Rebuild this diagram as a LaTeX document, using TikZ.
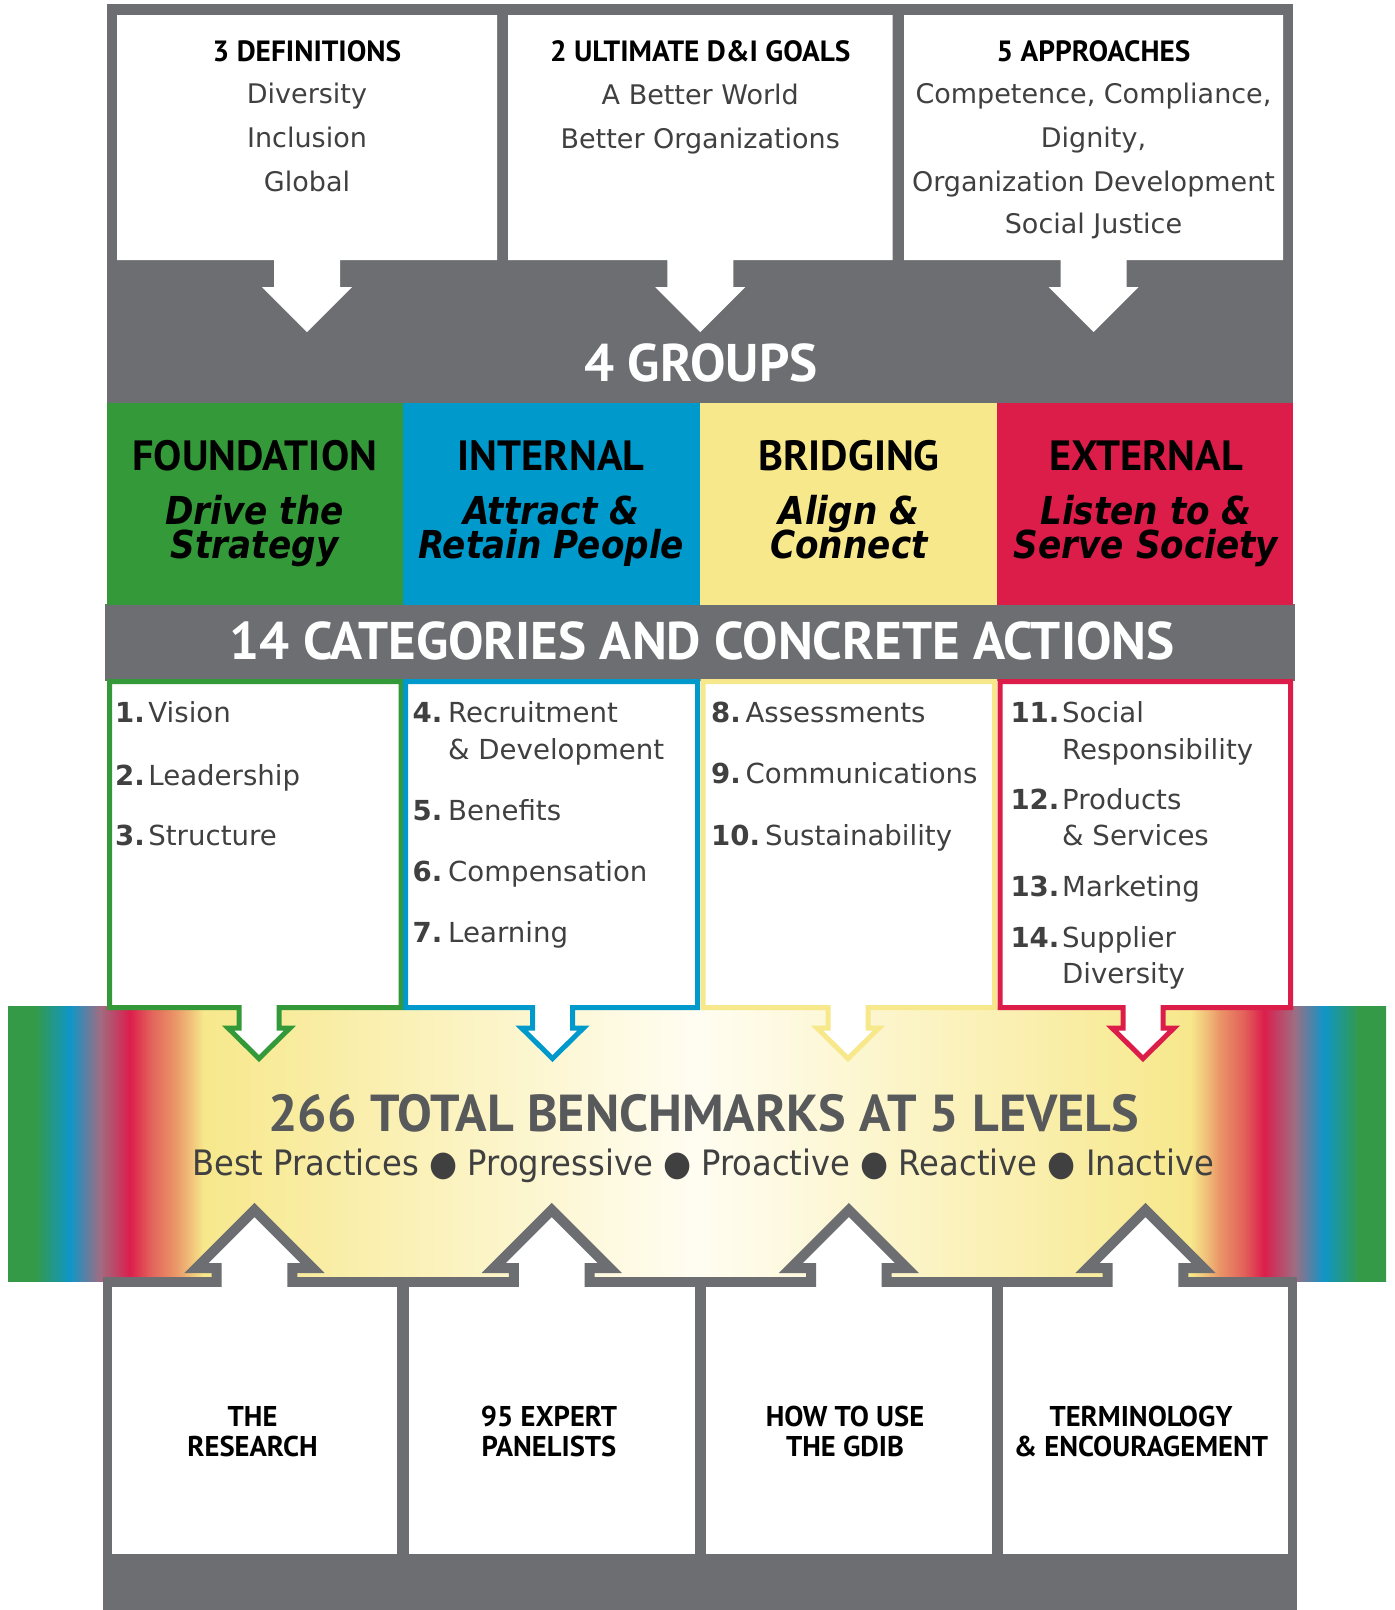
\documentclass[tikz,border=0pt]{standalone}
\usepackage{fontspec}
\newfontfamily\hf{PT Sans}
\newfontfamily\bodyfont{DejaVu Sans}
\newfontfamily\itcondfont{DejaVu Sans}[FakeStretch=0.89]
\newfontfamily\lvlfont{DejaVu Sans}[FakeStretch=0.92]
\definecolor{framegray}{RGB}{109,110,113}
\definecolor{fgreen}{RGB}{52,154,57}
\definecolor{fblue}{RGB}{0,153,204}
\definecolor{fyellow}{RGB}{247,232,140}
\definecolor{fred}{RGB}{220,29,74}
\definecolor{txtgray}{RGB}{64,64,65}
\definecolor{benchgray}{RGB}{88,89,91}
\definecolor{rgreen}{RGB}{52,154,72}
\definecolor{rblue}{RGB}{15,150,200}
\definecolor{rpurple}{RGB}{160,108,130}
\definecolor{rred}{RGB}{220,30,76}
\definecolor{rcoral}{RGB}{226,96,90}
\definecolor{rorange}{RGB}{234,150,104}
\definecolor{rpeach}{RGB}{240,190,120}
\definecolor{ryellow}{RGB}{247,232,140}
\definecolor{rwhite}{RGB}{255,253,242}
\pgfdeclarehorizontalshading{rainbow}{100bp}{color(0bp)=(rgreen); color(25bp)=(rgreen); color(25.98bp)=(rgreen); color(27.25bp)=(rblue); color(28.34bp)=(rpurple); color(29.43bp)=(rred); color(30.15bp)=(rcoral); color(31.06bp)=(rorange); color(31.6bp)=(rpeach); color(32.1bp)=(ryellow); color(50bp)=(rwhite); color(67.9bp)=(ryellow); color(68.5bp)=(rpeach); color(68.95bp)=(rorange); color(69.86bp)=(rcoral); color(70.57bp)=(rred); color(71.66bp)=(rpurple); color(72.75bp)=(rblue); color(74.02bp)=(rgreen); color(75bp)=(rgreen); color(100bp)=(rgreen)}
\begin{document}
\begin{tikzpicture}[x=1pt,y=-1pt,
  topbody/.style={inner sep=0pt, anchor=base, text=txtgray, font=\bodyfont\fontsize{27pt}{27pt}\selectfont},
  tophead/.style={inner sep=0pt, anchor=base, text=black, font=\hf\bfseries\fontsize{29.3pt}{29.3pt}\selectfont},
  bigtitle/.style={inner sep=0pt, anchor=base, text=white, font=\hf\bfseries\fontsize{53pt}{53pt}\selectfont},
  grphead/.style={inner sep=0pt, anchor=base, text=black, font=\hf\bfseries\fontsize{42.3pt}{42.3pt}\selectfont},
  grpit/.style={inner sep=0pt, anchor=base, text=black, text height=27pt, text depth=4pt, font=\itcondfont\bfseries\itshape\fontsize{38.5pt}{38.5pt}\selectfont},
  catnum/.style={inner sep=0pt, anchor=base west, text=txtgray, font=\bodyfont\bfseries\fontsize{27.6pt}{27.6pt}\selectfont},
  cattxt/.style={inner sep=0pt, anchor=base west, text=txtgray, font=\bodyfont\fontsize{27.6pt}{27.6pt}\selectfont},
  benchtitle/.style={inner sep=0pt, anchor=base, text=benchgray, font=\hf\bfseries\fontsize{52pt}{52pt}\selectfont},
  benchlevels/.style={inner sep=0pt, anchor=base, text=txtgray, font=\lvlfont\fontsize{35pt}{35pt}\selectfont},
  bothead/.style={inner sep=0pt, anchor=base, text=black, font=\hf\bfseries\fontsize{28.6pt}{28.6pt}\selectfont},
  catbox/.style={fill=white, line width=5pt, line join=miter},
  upbox/.style={fill=white, draw=framegray, line width=10pt, line join=miter}
]
\useasboundingbox (0,0) rectangle (1395,1610);

% top gray frame and bands
\fill[framegray] (107,4) rectangle (1293,404);
\fill[framegray] (105,604) rectangle (1294.5,681);
\fill[fgreen]  (107,403) rectangle (402.5,605);
\fill[fblue]   (402.5,403) rectangle (700,605);
\fill[fyellow] (700,403) rectangle (997,605);
\fill[fred]    (997,403) rectangle (1293,605);

% top boxes with white down arrows
\foreach \l/\r/\c in {117/497/307, 508/892.5/700.25, 904/1283/1093.5}
  \fill[white] (\l,15) -- (\r,15) -- (\r,260) -- (\c+33,260) -- (\c+33,287) -- (\c+45,287) -- (\c,332) -- (\c-45,287) -- (\c-33,287) -- (\c-33,260) -- (\l,260) -- cycle;

% rainbow band
\shade[shading=rainbow] (8,1006.7) rectangle (1386,1281.7);

% category boxes with outlined down arrows
\foreach \l/\r/\c/\col in {109.5/401/259/fgreen, 405.5/697.5/552.5/fblue, 703/994.5/848/fyellow, 1000/1290.5/1143/fred}
  \draw[catbox, draw=\col] (\l,681.5) -- (\r,681.5) -- (\r,1007.5) -- (\c+20,1007.5) -- (\c+20,1028) -- (\c+31,1028) -- (\c,1058.5) -- (\c-31,1028) -- (\c-20,1028) -- (\c-20,1007.5) -- (\l,1007.5) -- cycle;

% bottom frame
\fill[framegray] (102.7,1277.3) rectangle (1296.5,1610);
\foreach \c in {254.5, 551.7, 848.9, 1145.5}
  \draw[upbox] (\c-37.8,1300) -- (\c-37.8,1268) -- (\c-58,1268) -- (\c,1210) -- (\c+58,1268) -- (\c+37.8,1268) -- (\c+37.8,1300);
\foreach \l/\r in {111.9/397.3, 408.5/695, 706.2/991.6, 1002.9/1288.2}
  \fill[white] (\l,1287.3) rectangle (\r,1554);

% top texts
\node[tophead] (h1) at (307,61.7) {3 DEFINITIONS};
\node[topbody] (d1a) at (307,103.3) {Diversity};
\node[topbody] (d1b) at (307,147.7) {Inclusion};
\node[topbody] (d1c) at (307,191.7) {Global};
\node[tophead] (h2) at (700.25,61.7) {2 ULTIMATE D\&I GOALS};
\node[topbody] (d2a) at (700.25,104) {A Better World};
\node[topbody] (d2b) at (700.25,148) {Better Organizations};
\node[tophead] (h3) at (1093.5,61.7) {5 APPROACHES};
\node[topbody] (d3a) at (1093.5,103.3) {Competence, Compliance,};
\node[topbody] (d3b) at (1093.5,147) {Dignity,};
\node[topbody] (d3c) at (1093.5,191) {Organization Development};
\node[topbody] (d3d) at (1093.5,233.3) {Social Justice};

\node[bigtitle] (groups) at (701,381.7) {4 GROUPS};

% group texts
\node[grphead] (g1) at (254.7,470) {FOUNDATION};
\node[grpit] (g1a) at (254.7,524.5) {Drive the};
\node[grpit] (g1b) at (254.7,558) {Strategy};
\node[grphead] (g2) at (551.2,470) {INTERNAL};
\node[grpit] (g2a) at (551.2,524.5) {Attract \&};
\node[grpit] (g2b) at (551.2,558) {Retain People};
\node[grphead] (g3) at (849,470) {BRIDGING};
\node[grpit] (g3a) at (849,524.5) {Align \&};
\node[grpit] (g3b) at (849,558) {Connect};
\node[grphead] (g4) at (1146,470) {EXTERNAL};
\node[grpit] (g4a) at (1146,524.5) {Listen to \&};
\node[grpit] (g4b) at (1146,558) {Serve Society};

\node[bigtitle] (cats) at (702,659.3) {14 CATEGORIES AND CONCRETE ACTIONS};

% category items
\node[catnum] (n1) at (115,722.7) {1.};
\node[cattxt] (t1) at (148.2,722.7) {Vision};
\node[catnum] (n2) at (115,785) {2.};
\node[cattxt] (t2) at (148.2,785) {Leadership};
\node[catnum] (n3) at (115,845) {3.};
\node[cattxt] (t3) at (148.2,845) {Structure};

\node[catnum] (n4) at (412.4,722.7) {4.};
\node[cattxt] (t4) at (448,722.7) {Recruitment};
\node[cattxt] (t4b) at (448,759.3) {\& Development};
\node[catnum] (n5) at (412.4,820) {5.};
\node[cattxt] (t5) at (448,820) {Benefits};
\node[catnum] (n6) at (412.4,881.7) {6.};
\node[cattxt] (t6) at (448,881.7) {Compensation};
\node[catnum] (n7) at (412.4,942.7) {7.};
\node[cattxt] (t7) at (448,942.7) {Learning};

\node[catnum] (n8) at (711,722.7) {8.};
\node[cattxt] (t8) at (745.4,722.7) {Assessments};
\node[catnum] (n9) at (711,783.5) {9.};
\node[cattxt] (t9) at (745.4,783.5) {Communications};
\node[catnum] (n10) at (711,845) {10.};
\node[cattxt] (t10) at (765,845) {Sustainability};

\node[catnum] (n11) at (1010.3,722.7) {11.};
\node[cattxt] (t11) at (1062,722.7) {Social};
\node[cattxt] (t11b) at (1062,759.3) {Responsibility};
\node[catnum] (n12) at (1010.3,809.3) {12.};
\node[cattxt] (t12) at (1062,809.3) {Products};
\node[cattxt] (t12b) at (1062,845.7) {\& Services};
\node[catnum] (n13) at (1010.3,896.7) {13.};
\node[cattxt] (t13) at (1062,896.7) {Marketing};
\node[catnum] (n14) at (1010.3,947.3) {14.};
\node[cattxt] (t14) at (1062,947.3) {Supplier};
\node[cattxt] (t14b) at (1062,983.3) {Diversity};

% benchmarks
\node[benchtitle] (bench) at (703.7,1131.7) {266 TOTAL BENCHMARKS AT 5 LEVELS};
\node[benchlevels] (levels) at (703,1175) {Best Practices ● Progressive ● Proactive ● Reactive ● Inactive};

% bottom texts
\node[bothead] (b1a) at (252.6,1426.7) {THE};
\node[bothead] (b1b) at (252.6,1456) {RESEARCH};
\node[bothead] (b2a) at (549,1426.7) {95 EXPERT};
\node[bothead] (b2b) at (549,1456) {PANELISTS};
\node[bothead] (b3a) at (845,1426.7) {HOW TO USE};
\node[bothead] (b3b) at (845,1456) {THE GDIB};
\node[bothead] (b4a) at (1141,1426.7) {TERMINOLOGY};
\node[bothead] (b4b) at (1141,1456) {\& ENCOURAGEMENT};
\end{tikzpicture}
\end{document}
